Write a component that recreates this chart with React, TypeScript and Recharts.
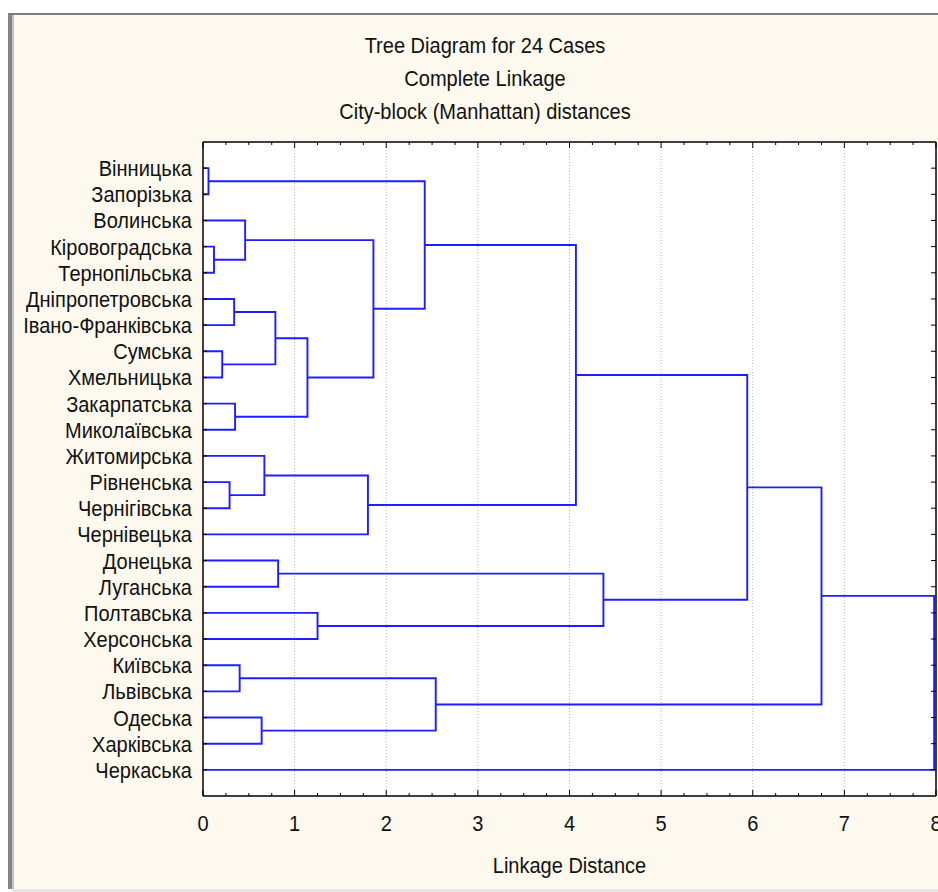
import React from 'react';
import { ComposedChart, Line, XAxis, YAxis, ReferenceLine, CartesianGrid } from 'recharts';

const caseNames = [
  'Вінницька', 'Запорізька', 'Волинська', 'Кіровоградська', 'Тернопільська',
  'Дніпропетровська', 'Івано-Франківська', 'Сумська', 'Хмельницька', 'Закарпатська',
  'Миколаївська', 'Житомирська', 'Рівненська', 'Чернігівська', 'Чернівецька',
  'Донецька', 'Луганська', 'Полтавська', 'Херсонська', 'Київська',
  'Львівська', 'Одеська', 'Харківська', 'Черкаська',
];

const rowTicks = [0, 1, 2, 3, 4, 5, 6, 7, 8, 9, 10, 11, 12, 13, 14, 15, 16, 17, 18, 19, 20, 21, 22, 23];
const distanceTicks = [0, 0.25, 0.5, 0.75, 1, 1.25, 1.5, 1.75, 2, 2.25, 2.5, 2.75, 3, 3.25, 3.5, 3.75, 4,
  4.25, 4.5, 4.75, 5, 5.25, 5.5, 5.75, 6, 6.25, 6.5, 6.75, 7, 7.25, 7.5, 7.75, 8];
const gridValues = [1, 2, 3, 4, 5, 6, 7];

// [node A, node B, linkage distance]; nodes 0..23 are cases, 24+ are clusters in merge order
const merges: [number, number, number][] = [
  [0, 1, 0.06],
  [3, 4, 0.12],
  [7, 8, 0.21],
  [12, 13, 0.29],
  [5, 6, 0.34],
  [9, 10, 0.35],
  [19, 20, 0.4],
  [2, 25, 0.46],
  [21, 22, 0.64],
  [11, 27, 0.67],
  [28, 26, 0.79],
  [15, 16, 0.82],
  [34, 29, 1.14],
  [17, 18, 1.25],
  [33, 14, 1.8],
  [31, 36, 1.86],
  [24, 39, 2.42],
  [30, 32, 2.54],
  [40, 38, 4.07],
  [35, 37, 4.37],
  [42, 43, 5.94],
  [44, 41, 6.75],
  [45, 23, 7.98],
];

type Pt = { x: number; y: number };

function buildLinks(): Pt[][] {
  const pos: number[] = caseNames.map((_, i) => i);
  const hgt: number[] = caseNames.map(() => 0);
  const links: Pt[][] = [];
  merges.forEach(([a, b, d]) => {
    links.push([
      { x: hgt[a], y: pos[a] },
      { x: d, y: pos[a] },
      { x: d, y: pos[b] },
      { x: hgt[b], y: pos[b] },
    ]);
    pos.push((pos[a] + pos[b]) / 2);
    hgt.push(d);
  });
  return links;
}

const links = buildLinks();

const FONT = "'Liberation Sans', Arial, sans-serif";
const LINE_COLOR = '#1e1eff';
const FS = 22;
const SX = 0.91;

const isMajor = (v: number) => Math.abs(v - Math.round(v)) < 1e-9;

const NarrowText = ({ x, y, anchor, children }: any) => (
  <text
    transform={`translate(${x},${y}) scale(${SX},1)`}
    x={0} y={0} textAnchor={anchor} fontSize={FS} fontFamily={FONT} fill="#111"
  >
    {children}
  </text>
);

const BottomTick = (p: any) => {
  const v = p.payload.value;
  const major = isMajor(v);
  return (
    <g>
      <line x1={p.x} x2={p.x} y1={p.y} y2={p.y - (major ? 6 : 3)} stroke="#000" strokeWidth={1} />
      {major && <NarrowText x={p.x} y={p.y + 35} anchor="middle">{v}</NarrowText>}
    </g>
  );
};

const TopTick = (p: any) => {
  const v = p.payload.value;
  const major = isMajor(v);
  return <line x1={p.x} x2={p.x} y1={p.y} y2={p.y + (major ? 6 : 3)} stroke="#000" strokeWidth={1} />;
};

const LeftTick = (p: any) => {
  const v = p.payload.value;
  return (
    <g>
      <line x1={p.x} x2={p.x + 4} y1={p.y} y2={p.y} stroke="#000" strokeWidth={1} />
      <NarrowText x={p.x - 11} y={p.y + 8} anchor="end">{caseNames[v]}</NarrowText>
    </g>
  );
};

const RightTick = (p: any) => (
  <line x1={p.x} x2={p.x - 5} y1={p.y} y2={p.y} stroke="#000" strokeWidth={1} />
);

const AxisTitle = (props: any) => {
  const vb = props.viewBox || {};
  return <NarrowText x={vb.x + vb.width / 2} y={vb.y + 77} anchor="middle">Linkage Distance</NarrowText>;
};

const titleLines = ['Tree Diagram for 24 Cases', 'Complete Linkage', 'City-block (Manhattan) distances'];

export default function App() {
  return (
    <div style={{ position: 'absolute', left: 0, top: 0, width: 938, height: 892, background: '#fff', overflow: 'hidden' }}>
      <div
        style={{
          position: 'absolute', left: 8, top: 13, width: 940, height: 876,
          background: '#fdf9ee', borderLeft: '4px solid #858585', borderTop: '2px solid #7c7c7c',
          boxSizing: 'border-box',
        }}
      />
      <div style={{ position: 'absolute', left: 12, top: 15, width: 2, height: 874, background: '#c4c4c4' }} />
      <div style={{ position: 'absolute', left: 12, top: 889, width: 930, height: 3, background: '#e6e6e6' }} />
      <div
        style={{
          position: 'absolute', left: 0, top: 29, width: 970, textAlign: 'center', fontFamily: FONT,
          fontSize: FS, lineHeight: '33px', color: '#111', transform: `scaleX(${SX})`, transformOrigin: '485px 0',
        }}
      >
        {titleLines.map((t) => (
          <div key={t}>{t}</div>
        ))}
      </div>
      <div style={{ position: 'absolute', left: 0, top: 0 }}>
        <ComposedChart width={938} height={892} margin={{ top: 112, right: 0, bottom: 0, left: 0 }}>
          <CartesianGrid yAxisId="l" horizontal={false} vertical={false} fill="#ffffff" />
          <XAxis
            dataKey="x" type="number" domain={[0, 8]} allowDataOverflow ticks={distanceTicks} interval={0}
            height={96} tickSize={0} tickMargin={0} tickLine={false} tick={BottomTick}
            axisLine={{ stroke: '#000', strokeWidth: 1.5 }} label={<AxisTitle />}
          />
          <XAxis
            xAxisId="t" orientation="top" dataKey="x" type="number" domain={[0, 8]} allowDataOverflow
            ticks={distanceTicks} interval={0} height={30} tickSize={0} tickMargin={0} tickLine={false}
            tick={TopTick} axisLine={{ stroke: '#000', strokeWidth: 1.5 }}
          />
          <YAxis
            yAxisId="l" type="number" domain={[-1, 24]} reversed allowDataOverflow ticks={rowTicks} interval={0}
            width={203} tickSize={0} tickMargin={0} tickLine={false} tick={LeftTick}
            axisLine={{ stroke: '#000', strokeWidth: 1.5 }}
          />
          <YAxis
            yAxisId="r" orientation="right" type="number" domain={[-1, 24]} reversed allowDataOverflow
            ticks={rowTicks} interval={0} width={2} tickSize={0} tickMargin={0} tickLine={false}
            tick={RightTick} axisLine={{ stroke: '#000', strokeWidth: 1.5 }}
          />
          {gridValues.map((g) => (
            <ReferenceLine key={'g' + g} x={g} yAxisId="l" stroke="#b4b4b4" strokeDasharray="1 2" strokeWidth={1} />
          ))}
          {links.map((d, i) => (
            <Line
              key={'link' + i} yAxisId="l" data={d} dataKey="y" type="linear" stroke={LINE_COLOR}
              strokeWidth={1.9} dot={false} activeDot={false} isAnimationActive={false} legendType="none"
            />
          ))}
        </ComposedChart>
      </div>
    </div>
  );
}
